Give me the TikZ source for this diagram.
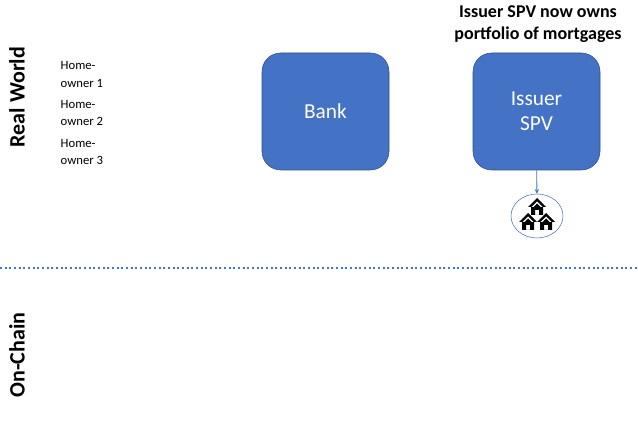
\documentclass[tikz,border=0pt]{standalone}
\usepackage{fontspec}
\setmainfont{Carlito}
\usetikzlibrary{positioning, arrows, shapes.geometric}
\definecolor{boxblue}{HTML}{4472C4}
\tikzset{x=0.75pt, y=-0.75pt,
  party/.style={draw=boxblue!70!black, fill=boxblue, rounded corners=14pt, minimum width=95.25pt, minimum height=87.75pt, text=white, font=\fontsize{16}{19}\selectfont, align=center},
  owner/.style={font=\fontsize{9.5}{13}\selectfont, align=left, anchor=north west},
  side/.style={rotate=90, font=\bfseries\fontsize{16.5}{18}\selectfont}}
\begin{document}
\begin{tikzpicture}
	\useasboundingbox (0,0) rectangle (638,423);
	\node[side] (Real) at (17,97) {Real World};
	\node[side] (Chain) at (17,355) {On-Chain};
	\node[owner] (Owners) at (56,57) {Home-\\owner 1\\[3pt]Home-\\owner 2\\[3pt]Home-\\owner 3};
	\node[party] (Bank) at (325.5,111.5) {Bank};
	\node[party] (Issuer) at (536.5,111.5) {Issuer\\SPV};
	\node[font=\bfseries\fontsize{13.5}{16}\selectfont, align=center] (Title) at (538,24) {Issuer SPV now owns\\portfolio of mortgages};
	\node[draw=boxblue, ellipse, minimum width=39pt, minimum height=33pt, inner sep=0pt] (Pool) at (537,216) {};
	\draw[->, >=stealth, boxblue, semithick] (Issuer) -- (Pool);
	\foreach \hx/\hy in {537/207, 528/222, 546/222}{
		\fill (\hx-9,\hy) -- (\hx,\hy-9) -- (\hx+9,\hy) -- cycle;
		\fill[even odd rule] (\hx-6,\hy) rectangle (\hx+6,\hy+8) (\hx-2,\hy+3) rectangle (\hx+2,\hy+8);
		\fill[white] (\hx,\hy-5.5) -- (\hx-5.5,\hy) -- (\hx+5.5,\hy) -- cycle;
		\fill (\hx,\hy-3.5) -- (\hx-4,\hy+0.5) -- (\hx+4,\hy+0.5) -- cycle;
	}
	\coordinate (DivL) at (0,268);
	\coordinate (DivR) at (638,268);
	\draw[boxblue, line width=1.7pt, dash pattern=on 1.5pt off 2pt] (DivL) -- (DivR);
\end{tikzpicture}
\end{document}
